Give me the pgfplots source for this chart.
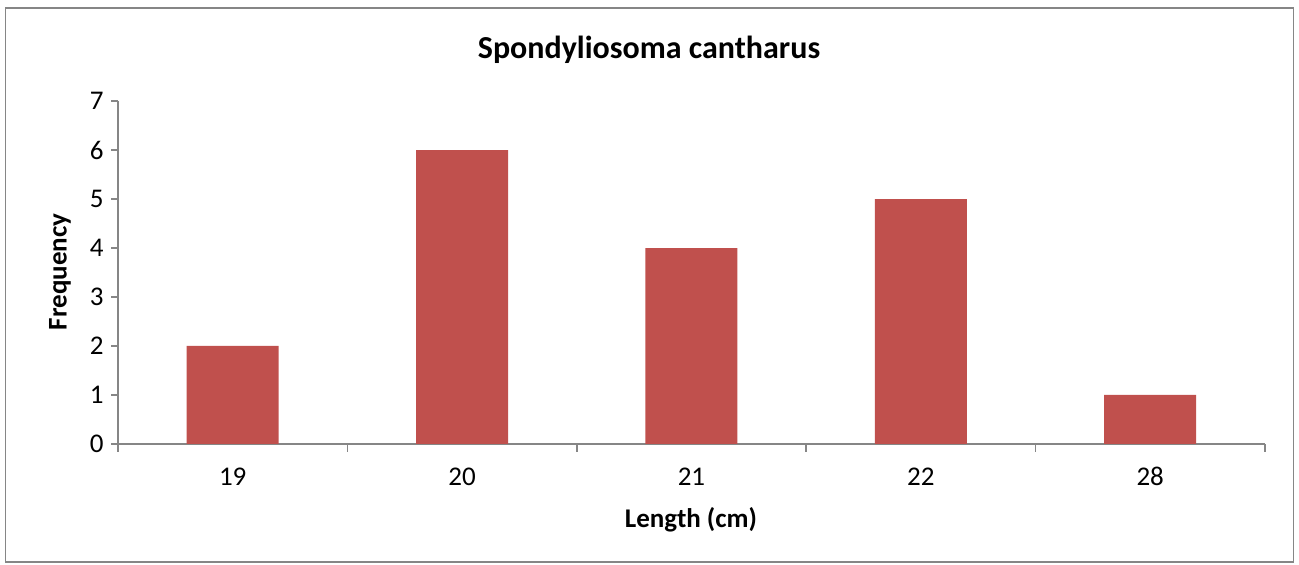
\documentclass[border=0pt]{standalone}
\usepackage{pgfplots}
\pgfplotsset{compat=1.18}
\usepackage{fontspec}
\setmainfont{Carlito}
\definecolor{barred}{HTML}{C0504D}
\definecolor{axgray}{HTML}{868686}
\begin{document}
\begin{tikzpicture}[x=1pt,y=1pt]
\path[use as bounding box] (0,0) rectangle (1299,565);
\draw[axgray,line width=1.5pt] (5.5,3) rectangle (1293.5,557);
\begin{axis}[
  at={(118pt,121pt)}, anchor=south west,
  scale only axis, width=1147pt, height=343pt,
  xmin=-0.5, xmax=4.5, ymin=0, ymax=7,
  axis lines*=left, axis line style={axgray,line width=1.5pt},
  ytick={0,...,7},
  xtick={0,...,4}, xticklabels={19,20,21,22,28},
  minor xtick={-0.5,0.5,1.5,2.5,3.5,4.5},
  tick align=outside, tick style={axgray,line width=1.5pt},
  major tick length=7pt, minor tick length=8pt,
  x tick style={draw=none},
  minor x tick style={draw=axgray,line width=1.5pt},
  /pgf/number format/assume math mode=true,
  ticklabel style={font=\fontsize{27}{30}\selectfont, text=black},
  yticklabel style={xshift=-4pt},
  xticklabel style={anchor=north, text height=18pt, text depth=0pt, yshift=-13pt},
  ybar, bar width=92pt,
  clip=false,
]
\addplot[fill=barred, draw=none] coordinates {(0,2) (1,6) (2,4) (3,5) (4,1)};
\end{axis}
\node[font=\fontsize{32}{36}\selectfont\bfseries] at (649,515) {Spondyliosoma cantharus};
\node[font=\fontsize{27}{30}\selectfont\bfseries, rotate=90] at (60,293) {Frequency};
\node[font=\fontsize{27}{30}\selectfont\bfseries] at (691,45) {Length (cm)};
\end{tikzpicture}
\end{document}
